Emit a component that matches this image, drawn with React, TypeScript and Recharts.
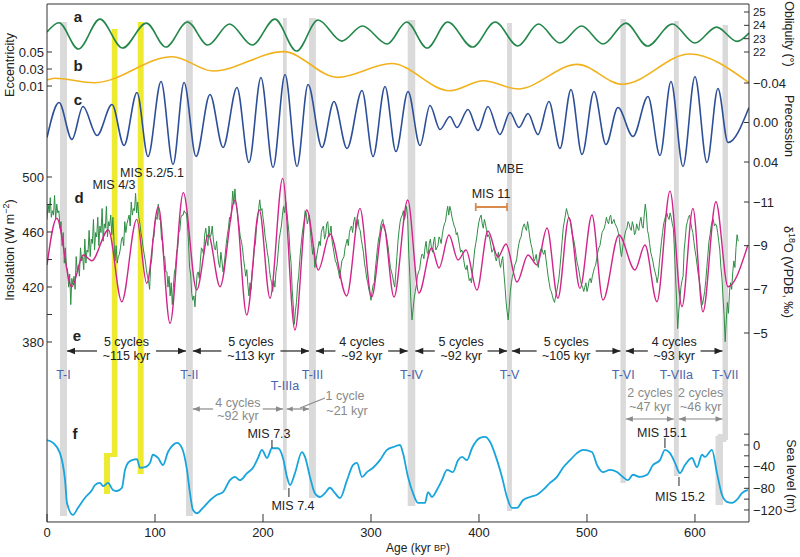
import React from "react";
import {
  ComposedChart,
  Line,
  XAxis,
  YAxis,
  ReferenceArea,
  ReferenceLine,
} from "recharts";

type Pt = [number, number];

// all ages in kyr BP
// (a) obliquity, degrees
const OBLIQUITY: Pt[] = [
  [0, 23.5], [11, 24.2], [29, 22.22], [49, 24.47], [70, 22.3], [92, 24.17], [110, 22.37],
  [130, 24.25], [149, 22.52], [169, 24.1], [190, 22.52], [211, 24.47], [231, 22.07],
  [251, 24.4], [273, 22.82], [292, 23.95], [315, 22.6], [333, 24.25], [352, 22.3],
  [371, 24.25], [394, 22.37], [415, 24.25], [436, 22.45], [455, 24.1], [475, 22.67],
  [495, 23.95], [515, 22.6], [536, 24.17], [556, 22.45], [579, 24.1], [600, 22.67],
  [620, 23.87], [639, 22.8], [650, 23.42],
];

// (b) eccentricity
const ECCENTRICITY: Pt[] = [
  [0, 0.0171], [7, 0.0191], [44, 0.0139], [116, 0.0445], [154, 0.0276], [219, 0.0504],
  [269, 0.0202], [319, 0.0365], [373, 0.0045], [404, 0.0162], [436, 0.0065],
  [491, 0.0355], [533, 0.012], [595, 0.0476], [650, 0.0139],
];

// (c) precession index
const PRECESSION: Pt[] = [
  [0, 0.0152], [11.1, -0.0203], [23.1, 0.0172], [33.3, -0.0162], [46.3, 0.0132],
  [60.2, -0.0182], [71.3, 0.0233], [83.3, -0.0304], [93.5, 0.0344], [105.6, -0.0415],
  [116.7, 0.0425], [126.9, -0.0405], [138, 0.0344], [150.9, -0.0284], [163, 0.0253],
  [175.9, -0.0355], [187, 0.0405], [198.1, -0.0456], [209.3, 0.0456], [220.4, -0.0486],
  [231.5, 0.0446], [241.7, -0.0385], [254.6, 0.0253], [265.7, -0.0213], [277.8, 0.0263],
  [291.7, -0.0324], [301.9, 0.0344], [313, -0.0365], [323.1, 0.0294], [334.3, -0.0314],
  [345.4, 0.0233], [354.6, -0.0172], [363.9, 0.0071], [373.1, -0.0061], [379.6, 0.0051],
  [389.8, -0.0132], [399.1, 0.0081], [408.3, -0.0162], [419.4, 0.0122], [428.7, -0.0101],
  [437, 0.0051], [445.4, -0.0091], [454.6, 0.0122], [464.8, -0.0213], [475, 0.0263],
  [485.2, -0.0334], [495.4, 0.0324], [506.5, -0.0314], [517.6, 0.0223], [528.7, -0.0152],
  [542.6, 0.0142], [556.5, -0.0263], [567.6, 0.0334], [577.8, -0.0415], [588.9, 0.0446],
  [600, -0.0466], [611.1, 0.0405], [621.3, -0.0344], [630.6, 0.0203], [650, -0.0152],
];

// (d) summer insolation, W m-2
const INSOLATION: Pt[] = [
  [0, 436], [9, 470], [22.9, 420.2], [33.6, 443.3], [41.4, 439.1], [56.8, 461.5],
  [69.2, 409.3], [83.1, 469.2], [92.3, 422.7], [103.1, 478.4], [113.9, 393.6],
  [126.2, 488.6], [138.6, 417.8], [149.4, 457.8], [160.2, 420.2], [174.1, 483.3],
  [184.9, 399.6], [196.6, 476], [206.5, 411.8], [218.2, 499], [229.6, 388.7],
  [240.5, 476], [251.2, 432.4], [262, 458.5], [277.5, 413.5], [289.8, 477.2],
  [300.6, 412.7], [311.4, 465.8], [321.3, 412.7], [334, 483.3], [344.4, 415.6],
  [356.2, 448.4], [363, 433.8], [372.2, 457.8], [380.6, 439.6], [388, 446.9],
  [398.1, 417.8], [408.3, 460.7], [417.6, 441.8], [425, 451.3], [435.2, 423.6],
  [445.4, 443.3], [453.7, 436], [463, 462.9], [473.1, 411.8], [483.3, 470.5],
  [493.5, 419], [504.6, 472.4], [514.8, 410.5], [529.6, 457.8], [544.4, 432.4],
  [553.7, 450.5], [564.8, 409.3], [576.9, 489.7], [588, 405.7], [598.1, 477.2],
  [607.4, 402], [619.4, 482], [630.6, 420.2], [649, 450.5],
];

// (d) speleothem d18O, per mil VPDB
const D18O: Pt[] = [
  [0, -10.2], [1, -10.9], [2, -10.5], [3, -11.2], [4, -10.3], [5, -10.6], [6, -10.4], [7, -11.3],
  [8, -10.2], [9, -10.9], [10, -10.5], [11, -10.6], [12, -9.8], [13, -10.1], [14, -9.0], [15, -9.6],
  [16, -8.2], [17, -8.9], [18, -8.0], [19, -7.9], [20, -7.1], [21, -7.7], [22, -6.3], [23, -7.5],
  [24, -7.2], [25, -7.6], [26, -7.0], [27, -8.5], [28, -7.8], [29, -8.1], [30, -7.6], [31, -8.9],
  [32, -8.3], [33, -8.5], [34, -7.9], [35, -9.3], [36, -8.2], [37, -8.8], [38, -8.7], [39, -9.7],
  [40, -8.5], [41, -9.3], [42, -9.1], [43, -10.2], [44, -8.8], [45, -9.6], [46, -9.4], [47, -10.3],
  [48, -9.0], [49, -9.9], [50, -9.6], [51, -10.7], [52, -9.2], [53, -10.0], [54, -9.8], [55, -10.8],
  [56, -9.4], [57, -10.1], [58, -9.9], [59, -10.4], [60, -9.5], [61, -10.3], [62, -9.2], [63, -8.3],
  [64, -9.0], [65, -8.2], [66, -8.5], [67, -8.6], [68, -8.9], [69, -9.3], [70, -9.4], [71, -9.0],
  [72, -10.1], [73, -9.6], [74, -10.0], [75, -10.2], [76, -10.4], [77, -9.9], [78, -11.0], [79, -10.4],
  [80, -10.7], [81, -10.6], [82, -11.4], [83, -10.5], [84, -11.0], [85, -10.3], [86, -10.0], [87, -9.6],
  [88, -9.3], [89, -8.9], [90, -8.6], [91, -8.3], [92, -7.9], [93, -7.6], [94, -7.4], [95, -7.0],
  [96, -8.1], [97, -8.4], [98, -9.3], [99, -9.4], [100, -10.1], [101, -10.3], [102, -10.2], [103, -10.9],
  [104, -10.2], [105, -10.2], [106, -9.3], [107, -9.2], [108, -8.5], [109, -8.5], [110, -7.8], [111, -7.8],
  [112, -7.1], [113, -7.6], [114, -6.7], [115, -7.3], [116, -6.3], [117, -7.1], [118, -7.8], [119, -8.0],
  [120, -8.7], [121, -8.9], [122, -9.6], [123, -9.7], [124, -10.3], [125, -10.4], [126, -10.4], [127, -10.6],
  [128, -10.5], [129, -10.5], [130, -10.0], [131, -9.2], [132, -8.0], [133, -7.7], [134, -6.8], [135, -6.5],
  [136, -6.7], [137, -6.2], [138, -7.0], [139, -7.7], [140, -7.8], [141, -7.5], [142, -8.3], [143, -8.9],
  [144, -8.8], [145, -8.6], [146, -9.5], [147, -9.8], [148, -9.3], [149, -9.0], [150, -9.9], [151, -9.4],
  [152, -9.5], [153, -9.9], [154, -9.3], [155, -8.9], [156, -8.8], [157, -9.2], [158, -8.6], [159, -8.2],
  [160, -8.0], [161, -8.7], [162, -8.3], [163, -7.8], [164, -8.1], [165, -8.6], [166, -9.1], [167, -9.5],
  [168, -9.8], [169, -10.3], [170, -10.1], [171, -10.7], [172, -11.5], [173, -10.9], [174, -11.6], [175, -10.9],
  [176, -10.6], [177, -10.2], [178, -9.8], [179, -9.4], [180, -9.2], [181, -8.9], [182, -8.4], [183, -8.0],
  [184, -7.6], [185, -7.9], [186, -7.2], [187, -6.7], [188, -7.3], [189, -7.0], [190, -7.8], [191, -8.2],
  [192, -8.9], [193, -9.1], [194, -9.9], [195, -10.2], [196, -10.7], [197, -11.1], [198, -10.6], [199, -10.7],
  [200, -10.3], [201, -9.9], [202, -9.4], [203, -9.1], [204, -8.7], [205, -8.4], [206, -7.9], [207, -7.5],
  [208, -7.3], [209, -6.9], [210, -7.4], [211, -7.1], [212, -7.8], [213, -8.1], [214, -8.7], [215, -9.3],
  [216, -9.6], [217, -9.9], [218, -10.4], [219, -10.8], [220, -10.5], [221, -11.0], [222, -10.6], [223, -10.1],
  [224, -9.6], [225, -8.7], [226, -8.2], [227, -7.0], [228, -6.3], [229, -5.4], [230, -6.0], [231, -6.4],
  [232, -7.2], [233, -7.6], [234, -8.3], [235, -8.9], [236, -9.4], [237, -9.8], [238, -10.1], [239, -10.6],
  [240, -10.5], [241, -10.0], [242, -10.2], [243, -10.4], [244, -9.6], [245, -9.1], [246, -8.6], [247, -8.9],
  [248, -8.0], [249, -8.3], [250, -8.6], [251, -8.9], [252, -9.2], [253, -9.0], [254, -9.6], [255, -9.8],
  [256, -9.9], [257, -9.3], [258, -9.5], [259, -10.0], [260, -10.1], [261, -9.4], [262, -9.6], [263, -9.9],
  [264, -9.2], [265, -8.9], [266, -8.6], [267, -8.3], [268, -8.2], [269, -8.0], [270, -7.8], [271, -7.5],
  [272, -7.9], [273, -8.3], [274, -8.4], [275, -8.5], [276, -8.9], [277, -9.1], [278, -9.3], [279, -9.0],
  [280, -9.6], [281, -9.8], [282, -9.9], [283, -9.6], [284, -10.1], [285, -10.3], [286, -9.8], [287, -9.9],
  [288, -10.2], [289, -9.8], [290, -9.7], [291, -9.3], [292, -9.0], [293, -8.7], [294, -8.2], [295, -7.9],
  [296, -7.5], [297, -7.3], [298, -7.0], [299, -6.8], [300, -6.5], [301, -6.9], [302, -7.2], [303, -7.3],
  [304, -7.9], [305, -8.4], [306, -8.9], [307, -9.3], [308, -9.5], [309, -9.9], [310, -10.1], [311, -10.2],
  [312, -9.8], [313, -9.7], [314, -9.5], [315, -9.2], [316, -8.9], [317, -8.4], [318, -8.0], [319, -7.8],
  [320, -7.6], [321, -7.3], [322, -7.1], [323, -7.8], [324, -8.5], [325, -9.2], [326, -9.7], [327, -10.1],
  [328, -10.3], [329, -10.4], [330, -10.6], [331, -10.2], [332, -10.4], [333, -10.8], [334, -10.2], [335, -8.6],
  [336, -7.6], [337, -6.4], [338, -5.6], [339, -6.1], [340, -6.6], [341, -6.9], [342, -7.2], [343, -7.6],
  [344, -7.8], [345, -7.9], [346, -8.3], [347, -8.6], [348, -8.6], [349, -8.4], [350, -8.9], [351, -9.2],
  [352, -8.7], [353, -8.6], [354, -9.1], [355, -9.3], [356, -8.9], [357, -8.7], [358, -9.2], [359, -9.4],
  [360, -8.8], [361, -8.9], [362, -9.0], [363, -9.4], [364, -9.3], [365, -9.1], [366, -9.5], [367, -9.8],
  [368, -10.0], [369, -10.1], [370, -10.5], [371, -10.8], [372, -10.4], [373, -10.8], [374, -10.6], [375, -10.3],
  [376, -10.1], [377, -9.9], [378, -9.8], [379, -9.5], [380, -9.6], [381, -9.3], [382, -9.0], [383, -8.7],
  [384, -8.8], [385, -8.7], [386, -8.3], [387, -8.0], [388, -7.9], [389, -8.1], [390, -7.7], [391, -7.4],
  [392, -7.5], [393, -7.3], [394, -7.8], [395, -8.3], [396, -8.8], [397, -9.1], [398, -9.4], [399, -9.8],
  [400, -10.1], [401, -10.3], [402, -10.4], [403, -10.0], [404, -9.8], [405, -10.2], [406, -10.0], [407, -9.7],
  [408, -9.4], [409, -9.5], [410, -9.3], [411, -9.0], [412, -8.7], [413, -8.8], [414, -8.9], [415, -8.5],
  [416, -8.3], [417, -8.5], [418, -8.7], [419, -8.2], [420, -8.0], [421, -8.3], [422, -8.5], [423, -7.8],
  [424, -7.2], [425, -6.5], [426, -6.0], [427, -5.6], [428, -6.2], [429, -6.9], [430, -7.3], [431, -7.6],
  [432, -7.8], [433, -8.1], [434, -8.2], [435, -8.4], [436, -8.8], [437, -9.1], [438, -9.3], [439, -9.4],
  [440, -9.7], [441, -9.9], [442, -10.0], [443, -9.8], [444, -9.7], [445, -10.1], [446, -9.8], [447, -9.4],
  [448, -9.1], [449, -8.9], [450, -8.6], [451, -8.3], [452, -8.4], [453, -8.6], [454, -8.2], [455, -8.0],
  [456, -8.6], [457, -8.8], [458, -8.9], [459, -8.7], [460, -8.6], [461, -8.8], [462, -8.4], [463, -8.0],
  [464, -7.6], [465, -7.3], [466, -7.0], [467, -6.9], [468, -6.7], [469, -6.5], [470, -6.4], [471, -6.7],
  [472, -6.9], [473, -7.2], [474, -7.5], [475, -8.0], [476, -8.6], [477, -9.2], [478, -9.8], [479, -10.1],
  [480, -10.4], [481, -10.7], [482, -10.5], [483, -10.3], [484, -10.2], [485, -10.0], [486, -9.6], [487, -9.4],
  [488, -9.2], [489, -8.9], [490, -8.5], [491, -8.2], [492, -8.0], [493, -7.7], [494, -7.4], [495, -7.2],
  [496, -7.1], [497, -6.9], [498, -7.1], [499, -7.3], [500, -6.9], [501, -7.1], [502, -7.4], [503, -7.5],
  [504, -7.3], [505, -7.6], [506, -7.8], [507, -8.0], [508, -8.1], [509, -8.4], [510, -8.7], [511, -8.9],
  [512, -9.0], [513, -9.3], [514, -9.6], [515, -9.7], [516, -9.8], [517, -10.0], [518, -10.3], [519, -10.1],
  [520, -10.0], [521, -10.3], [522, -10.4], [523, -10.0], [524, -10.1], [525, -10.2], [526, -10.0], [527, -9.9],
  [528, -9.8], [529, -9.6], [530, -9.3], [531, -8.8], [532, -8.5], [533, -8.9], [534, -9.2], [535, -9.5],
  [536, -9.7], [537, -9.8], [538, -10.1], [539, -10.0], [540, -9.8], [541, -9.7], [542, -10.1], [543, -9.9],
  [544, -9.5], [545, -9.6], [546, -10.0], [547, -9.8], [548, -9.7], [549, -10.1], [550, -10.3], [551, -9.9],
  [552, -9.8], [553, -10.4], [554, -10.9], [555, -10.5], [556, -9.7], [557, -9.5], [558, -9.1], [559, -8.7],
  [560, -8.5], [561, -8.3], [562, -8.0], [563, -7.8], [564, -7.6], [565, -7.3], [566, -7.6], [567, -8.2],
  [568, -8.7], [569, -9.2], [570, -9.6], [571, -10.0], [572, -10.2], [573, -10.4], [574, -10.5], [575, -10.3],
  [576, -10.2], [577, -10.5], [578, -10.3], [579, -10.0], [580, -9.8], [581, -8.8], [582, -7.6], [583, -6.5],
  [584, -5.2], [585, -6.0], [586, -6.5], [587, -7.1], [588, -7.4], [589, -7.6], [590, -8.8], [591, -9.3],
  [592, -9.9], [593, -10.1], [594, -10.3], [595, -10.4], [596, -10.1], [597, -9.8], [598, -9.6], [599, -9.2],
  [600, -8.8], [601, -8.5], [602, -8.1], [603, -7.7], [604, -7.4], [605, -7.0], [606, -6.6], [607, -6.3],
  [608, -6.6], [609, -6.9], [610, -7.4], [611, -8.0], [612, -8.6], [613, -9.2], [614, -9.5], [615, -9.9],
  [616, -10.1], [617, -10.2], [618, -9.9], [619, -10.0], [620, -9.9], [621, -9.6], [622, -9.2], [623, -8.8],
  [624, -8.0], [625, -7.5], [626, -6.6], [627, -5.8], [628, -4.6], [629, -5.6], [630, -6.4], [631, -5.9],
  [632, -6.9], [633, -7.3], [634, -7.0], [635, -7.8], [636, -8.3], [637, -8.0], [638, -8.9], [639, -9.5],
  [640, -9.2],
];

// (f) sea level, m
const SEA_LEVEL: Pt[] = [
  [0, 9], [5.6, 4], [12, -15], [16.7, -65], [18.5, -107], [24, -129], [28.7, -116], [35, -98],
  [41.7, -83], [44.4, -74], [49, -70], [51.9, -76], [56.5, -70], [61, -83], [64.8, -85], [69.4, -79],
  [72.2, -46], [75, -33], [78.7, -28], [83.3, -26], [86, -42], [90.7, -41], [95.4, -33], [98, -18],
  [102.8, -24], [107.4, -37], [112, -13], [116.7, 0], [120.4, 4], [125, -6], [129.6, -46], [132.4, -89],
  [135.2, -120], [138.9, -126], [144.4, -116], [151, -102], [157.4, -92], [163, -87], [169.4, -65],
  [174, -59], [178.7, -65], [185.2, -52], [190.7, -42], [195.4, -24], [199, -9], [203.7, -24],
  [208.3, -6], [213.9, -6], [218.5, -24], [222.2, -59], [225, -74], [229.6, -52], [236, -13],
  [238.9, -22], [243.5, -59], [248, -89], [252.8, -96], [257.4, -89], [262, -79], [266.7, -89],
  [271.3, -98], [277.8, -65], [283.3, -37], [287, -33], [291.7, -59], [296.3, -50], [301.9, -42],
  [308.3, -28], [314.8, -9], [320.4, -4], [326.9, 0], [329.6, -15], [334.3, -59], [338.9, -89],
  [343.5, -107], [350, -107], [352.8, -87], [356.5, -96], [361, -83], [365.7, -65], [370.4, -46],
  [375.9, -50], [380.6, -28], [384.3, -22], [388.9, -28], [393.5, -6], [400.9, 13], [405.6, 15],
  [410.2, 6], [416.7, -28], [421.3, -59], [425.9, -96], [430.6, -116], [435.2, -116], [440.7, -102],
  [447.2, -96], [453.7, -92], [459.3, -83], [465.7, -70], [472.2, -59], [477.8, -42], [484.3, -28],
  [490.7, -15], [496.3, -9], [504.6, -13], [509.3, -37], [514.8, -50], [521.3, -46], [527.8, -50],
  [533.3, -59], [537.9, -65], [542.6, -55], [549, -59], [555.6, -55], [561.1, -37], [567.6, -28],
  [572.2, -9], [576.9, -15], [581.5, -33], [586.1, -52], [590.7, -37], [597.2, -24], [601.9, -41],
  [606.5, -18], [609.3, -22], [615.7, -9], [620.4, -52], [625, -92], [629.6, -105], [634.3, -107],
  [638.9, -101], [643.5, -89], [649, -83],
];

// glacial terminations (age ranges of the grey bands)
const TERMINATIONS = [
  { name: "T-I", from: 12, to: 18.5 },
  { name: "T-II", from: 128.7, to: 135 },
  { name: "T-IIIa", from: 218.5, to: 222 },
  { name: "T-III", from: 242.6, to: 249 },
  { name: "T-IV", from: 334, to: 341 },
  { name: "T-V", from: 426, to: 430.5 },
  { name: "T-VI", from: 531, to: 536 },
  { name: "T-VIIa", from: 580.5, to: 585 },
  { name: "T-VII", from: 625.5, to: 630.6 },
];

const CYCLES = [
  { from: "T-I", to: "T-II", n: "5 cycles", span: "~115 kyr" },
  { from: "T-II", to: "T-III", n: "5 cycles", span: "~113 kyr" },
  { from: "T-III", to: "T-IV", n: "4 cycles", span: "~92 kyr" },
  { from: "T-IV", to: "T-V", n: "5 cycles", span: "~92 kyr" },
  { from: "T-V", to: "T-VI", n: "5 cycles", span: "~105 kyr" },
  { from: "T-VI", to: "T-VII", n: "4 cycles", span: "~93 kyr" },
];

const MIS_11: [number, number] = [397, 426];

const AGE_TICKS = [0, 100, 200, 300, 400, 500, 600];
const MINOR_TICKS = [0, 20, 40, 60, 80, 100, 120, 140, 160, 180, 200, 220, 240, 260, 280, 300, 320, 340, 360, 380, 400, 420, 440, 460, 480, 500, 520, 540, 560, 580, 600, 620, 640];

// ---- layout ----
const W = 800;
const H = 557;
const M = { top: 4, right: 51, bottom: 35, left: 47 };
const TOP = M.top;
const BOTTOM = H - M.bottom;
const THIN = 0.01; // axes need a non-zero box to be drawn
const FONT = "'Liberation Sans', Arial, Helvetica, sans-serif";
const INK = "#222";
const GREY = "#8a8a8a";
const BLUE = "#4a64ad";
const BAND = "#dadada";
const YELLOW = "#eeea30";

const X = (age: number) => M.left + (age * (W - M.left - M.right)) / 650;
// pixel row -> percentage of the plot height (for the decorative "pos" axis)
const py = (y: number) => ((y - TOP) / (BOTTOM - TOP)) * 100;

// axis domain so that v1 sits at pixel row y1 and v2 at y2
function fit(v1: number, y1: number, v2: number, y2: number) {
  const k = (v2 - v1) / (y2 - y1);
  const top = v1 + (TOP - y1) * k;
  const bot = v1 + (BOTTOM - y1) * k;
  return top > bot
    ? { domain: [bot, top] as [number, number], reversed: false }
    : { domain: [top, bot] as [number, number], reversed: true };
}

const OBL_D = fit(25, 12, 22, 52);
const ECC_D = fit(0.05, 52, 0.01, 86);
const PREC_D = fit(-0.04, 83, 0.04, 162);
const INS_D = fit(500, 177, 380, 342);
const D18_D = fit(-11, 202, -5, 333);
const SEA_D = fit(0, 445, -120, 510);

// vertical extent (pixel rows) of each grey band
const BAND_ROWS: Record<string, [number, number]> = {
  "T-I": [22, 516],
  "T-II": [20, 516],
  "T-IIIa": [18, 490],
  "T-III": [18, 498],
  "T-IV": [20, 506],
  "T-V": [23, 511],
  "T-VI": [19, 483],
  "T-VIIa": [21, 476],
  "T-VII": [25, 440],
};

const rows = (pts: Pt[]) => pts.map(([age, v]) => ({ age, v }));
const term = (name: string) => TERMINATIONS.find((t) => t.name === name)!;
const minus = (s: string) => s.replace("-", "\u2212");

const arrow =
  (heads: "none" | "end" | "both", color: string, size = 8) =>
  (p: any) => {
    const { x1, y1, x2, y2 } = p;
    const dx = x2 - x1;
    const dy = y2 - y1;
    const len = Math.hypot(dx, dy) || 1;
    const ux = dx / len;
    const uy = dy / len;
    const hw = size * 0.4;
    const head = (tx: number, ty: number, dir: number) => {
      const bx = tx - dir * ux * size;
      const by = ty - dir * uy * size;
      return (
        <polygon
          points={`${tx},${ty} ${bx - uy * hw},${by + ux * hw} ${bx + uy * hw},${by - ux * hw}`}
          fill={color}
        />
      );
    };
    return (
      <g>
        <line x1={x1} y1={y1} x2={x2} y2={y2} stroke={color} strokeWidth={1.2} />
        {heads === "both" && head(x1, y1, -1)}
        {heads !== "none" && head(x2, y2, 1)}
      </g>
    );
  };

const capped = (color: string) => (p: any) => {
  const { x1, y1, x2, y2 } = p;
  return (
    <g stroke={color} strokeWidth={1.8}>
      <line x1={x1} y1={y1} x2={x2} y2={y2} />
      <line x1={x1} y1={y1 - 4} x2={x1} y2={y1 + 4} />
      <line x1={x2} y1={y2 - 4} x2={x2} y2={y2 + 4} />
    </g>
  );
};

function Txt(props: {
  x: number;
  y: number;
  children: React.ReactNode;
  size?: number;
  color?: string;
  bold?: boolean;
  rotate?: number;
  anchor?: "start" | "middle" | "end";
}) {
  const { x, y, children, size = 12.5, color = INK, bold, rotate, anchor = "middle" } = props;
  return (
    <text
      x={x}
      y={y}
      fontSize={size}
      fill={color}
      fontWeight={bold ? 700 : 400}
      textAnchor={anchor}
      dominantBaseline="central"
      transform={rotate ? `rotate(${rotate} ${x} ${y})` : undefined}
    >
      {children}
    </text>
  );
}

export default function App() {
  const tick = { fontSize: 13, fill: INK, fontFamily: FONT };
  const smallTick = { fontSize: 11.5, fill: INK, fontFamily: FONT };
  const seg = (a: number, b: number, y: number, yb = y) => [
    { x: a, y: py(y) },
    { x: b, y: py(yb) },
  ];
  const rowE = 351;
  const gapKyr = (s: string) => (s.length * 6.3) / 2 / 1.08 + 4;

  return (
    <div style={{ position: "absolute", left: 0, top: 0, width: W, height: H, background: "#fff", fontFamily: FONT }}>
      <ComposedChart width={W} height={H} margin={M}>
        <XAxis xAxisId="x" type="number" dataKey="age" domain={[0, 650]} allowDataOverflow ticks={AGE_TICKS}
          interval={0} height={THIN} tickSize={-8} tickMargin={14} stroke="#333" tick={tick} />
        <XAxis xAxisId="xminor" type="number" domain={[0, 650]} allowDataOverflow ticks={MINOR_TICKS}
          interval={0} height={THIN} tickSize={-4} tick={false} axisLine={false} stroke="#333" />
        <XAxis xAxisId="xtop" orientation="top" type="number" domain={[0, 650]} allowDataOverflow ticks={MINOR_TICKS}
          interval={0} height={THIN} tickSize={-5} tick={false} stroke="#333" />

        <YAxis yAxisId="ecc" orientation="left" width={THIN} type="number" domain={ECC_D.domain} reversed={ECC_D.reversed}
          allowDataOverflow ticks={[0.01, 0.03, 0.05]} interval={0} tickFormatter={(v: number) => v.toFixed(2)}
          tickSize={-5} tickMargin={8} tick={tick} axisLine={false} stroke="#333" />
        <YAxis yAxisId="ins" orientation="left" width={THIN} type="number" domain={INS_D.domain} reversed={INS_D.reversed}
          allowDataOverflow ticks={[380, 400, 420, 440, 460, 480, 500]} interval={0}
          tickFormatter={(v: number) => ((v - 380) % 40 === 0 ? String(v) : "")}
          tickSize={-5} tickMargin={8} tick={tick} stroke="#333" />
        <YAxis yAxisId="obl" orientation="right" width={THIN} type="number" domain={OBL_D.domain} reversed={OBL_D.reversed}
          allowDataOverflow ticks={[22, 23, 24, 25]} interval={0} tickSize={-5} tickMargin={9} tick={smallTick}
          axisLine={false} stroke="#333" />
        <YAxis yAxisId="prec" orientation="right" width={THIN} type="number" domain={PREC_D.domain} reversed={PREC_D.reversed}
          allowDataOverflow ticks={[-0.04, 0, 0.04]} interval={0} tickFormatter={(v: number) => minus(v.toFixed(2))}
          tickSize={-5} tickMargin={9} tick={tick} axisLine={false} stroke="#333" />
        <YAxis yAxisId="d18o" orientation="right" width={THIN} type="number" domain={D18_D.domain} reversed={D18_D.reversed}
          allowDataOverflow ticks={[-11, -9, -7, -5]} interval={0} tickFormatter={(v: number) => minus(String(v))}
          tickSize={-5} tickMargin={9} tick={tick} axisLine={false} stroke="#333" />
        <YAxis yAxisId="sea" orientation="right" width={THIN} type="number" domain={SEA_D.domain} reversed={SEA_D.reversed}
          allowDataOverflow ticks={[20, 0, -20, -40, -60, -80, -100, -120]} interval={0}
          tickFormatter={(v: number) => (v <= 0 && v % 40 === 0 ? minus(String(v)) : "")}
          tickSize={-5} tickMargin={9} tick={tick} stroke="#333" />
        <YAxis yAxisId="pos" hide type="number" domain={[0, 100]} reversed allowDataOverflow />

        {/* terminations */}
        {TERMINATIONS.map((t) => (
          <ReferenceArea key={t.name} xAxisId="x" yAxisId="pos" x1={t.from} x2={t.to}
            y1={py(BAND_ROWS[t.name][0])} y2={py(BAND_ROWS[t.name][1])} fill={BAND} fillOpacity={1} stroke="none" />
        ))}
        <ReferenceArea xAxisId="x" yAxisId="pos" x1={619} x2={626} y1={py(436)} y2={py(505)} fill={BAND} fillOpacity={1} stroke="none" />
        <ReferenceArea xAxisId="x" yAxisId="pos" x1={621} x2={629} y1={py(434)} y2={py(442)} fill={BAND} fillOpacity={1} stroke="none" />

        {/* MIS 4/3 and MIS 5.2/5.1 */}
        <ReferenceArea xAxisId="x" yAxisId="pos" x1={60} x2={65.3} y1={py(29)} y2={py(457)} fill={YELLOW} fillOpacity={1} stroke="none" />
        <ReferenceArea xAxisId="x" yAxisId="pos" x1={52.8} x2={58.3} y1={py(453)} y2={py(494)} fill={YELLOW} fillOpacity={1} stroke="none" />
        <ReferenceArea xAxisId="x" yAxisId="pos" x1={56} x2={62} y1={py(453)} y2={py(457)} fill={YELLOW} fillOpacity={1} stroke="none" />
        <ReferenceArea xAxisId="x" yAxisId="pos" x1={84} x2={89.5} y1={py(22)} y2={py(474)} fill={YELLOW} fillOpacity={1} stroke="none" />

        <Line xAxisId="x" yAxisId="obl" data={rows(OBLIQUITY)} dataKey="v" type="monotone" stroke="#23874a"
          strokeWidth={1.6} dot={false} isAnimationActive={false} />
        <Line xAxisId="x" yAxisId="ecc" data={rows(ECCENTRICITY)} dataKey="v" type="monotone" stroke="#f2b21e"
          strokeWidth={1.6} dot={false} isAnimationActive={false} />
        <Line xAxisId="x" yAxisId="prec" data={rows(PRECESSION)} dataKey="v" type="monotone" stroke="#2d4f98"
          strokeWidth={1.6} dot={false} isAnimationActive={false} />
        <Line xAxisId="x" yAxisId="d18o" data={rows(D18O)} dataKey="v" type="linear" stroke="#2f8d45"
          strokeWidth={1} dot={false} isAnimationActive={false} />
        <Line xAxisId="x" yAxisId="ins" data={rows(INSOLATION)} dataKey="v" type="monotone" stroke="#d0258a"
          strokeWidth={1.4} dot={false} isAnimationActive={false} />
        <Line xAxisId="x" yAxisId="sea" data={rows(SEA_LEVEL)} dataKey="v" type="monotone" stroke="#18a4dc"
          strokeWidth={1.8} dot={false} isAnimationActive={false} />

        {/* e: cycle counts between terminations */}
        {CYCLES.map((c) => {
          const a = term(c.from).to;
          const b = term(c.to).from;
          const mid = (a + b) / 2;
          const g = gapKyr(c.span);
          return [
            <ReferenceLine key={c.from + "l"} xAxisId="x" yAxisId="pos" segment={seg(mid - g, a, rowE)} shape={arrow("end", INK)} />,
            <ReferenceLine key={c.from + "r"} xAxisId="x" yAxisId="pos" segment={seg(mid + g, b, rowE)} shape={arrow("end", INK)} />,
          ];
        })}

        {/* grey sub-cycles */}
        <ReferenceLine xAxisId="x" yAxisId="pos" segment={seg(176.75 - 23, 135, 409)} shape={arrow("end", GREY, 7)} />
        <ReferenceLine xAxisId="x" yAxisId="pos" segment={seg(176.75 + 23, 218.5, 409)} shape={arrow("end", GREY, 7)} />
        <ReferenceLine xAxisId="x" yAxisId="pos" segment={seg(222, 242.6, 409)} shape={arrow("both", GREY, 6)} />
        <ReferenceLine xAxisId="x" yAxisId="pos" segment={seg(257.4, 234.3, 398, 408)} shape={arrow("none", GREY)} />
        <ReferenceLine xAxisId="x" yAxisId="pos" segment={seg(536, 580.5, 419)} shape={arrow("both", GREY, 7)} />
        <ReferenceLine xAxisId="x" yAxisId="pos" segment={seg(585, 625.5, 419)} shape={arrow("both", GREY, 7)} />

        {/* MIS markers */}
        <ReferenceLine xAxisId="x" yAxisId="pos" segment={[{ x: 208.3, y: py(440) }, { x: 208.3, y: py(448) }]} stroke={INK} />
        <ReferenceLine xAxisId="x" yAxisId="pos" segment={[{ x: 224, y: py(488) }, { x: 224, y: py(497) }]} stroke={INK} />
        <ReferenceLine xAxisId="x" yAxisId="pos" segment={[{ x: 572.2, y: py(438) }, { x: 572.2, y: py(448) }]} stroke={INK} />
        <ReferenceLine xAxisId="x" yAxisId="pos" segment={[{ x: 585.2, y: py(477) }, { x: 585.2, y: py(486) }]} stroke={INK} />
        <ReferenceLine xAxisId="x" yAxisId="pos" segment={seg(MIS_11[0], MIS_11[1], 207)} shape={capped("#d98a4c")} />
      </ComposedChart>

      <svg width={W} height={H} style={{ position: "absolute", left: 0, top: 0, pointerEvents: "none" }} fontFamily={FONT}>
        {/* panel letters */}
        <Txt x={78} y={16} bold size={15}>a</Txt>
        <Txt x={78} y={65} bold size={15}>b</Txt>
        <Txt x={78} y={99} bold size={15}>c</Txt>
        <Txt x={79} y={197} bold size={15}>d</Txt>
        <Txt x={77} y={335} bold size={15}>e</Txt>
        <Txt x={75} y={433} bold size={15}>f</Txt>

        {/* axis titles */}
        <Txt x={10} y={65} rotate={-90}>Eccentricity</Txt>
        <Txt x={10} y={250} rotate={-90}>
          Insolation (W m<tspan dy={-4} fontSize={9}>{"\u22122"}</tspan><tspan dy={4}>)</tspan>
        </Txt>
        <Txt x={789} y={34} rotate={90}>Obliquity (°)</Txt>
        <Txt x={789} y={126} rotate={90}>Precession</Txt>
        <Txt x={788} y={272} rotate={90}>
          δ<tspan dy={-4} fontSize={9}>18</tspan><tspan dy={4}>O (VPDB, ‰)</tspan>
        </Txt>
        <Txt x={791} y={476} rotate={90}>Sea level (m)</Txt>
        <Txt x={418} y={548} size={12}>
          Age (kyr <tspan fontSize={9}>BP</tspan>)
        </Txt>

        {/* annotations */}
        <Txt x={152} y={173}>MIS 5.2/5.1</Txt>
        <Txt x={114} y={185}>MIS 4/3</Txt>
        <Txt x={510} y={169}>MBE</Txt>
        <Txt x={491} y={194}>MIS 11</Txt>
        <Txt x={269} y={434}>MIS 7.3</Txt>
        <Txt x={293} y={506}>MIS 7.4</Txt>
        <Txt x={662} y={433}>MIS 15.1</Txt>
        <Txt x={680} y={497}>MIS 15.2</Txt>

        {CYCLES.map((c) => {
          const mid = X((term(c.from).to + term(c.to).from) / 2);
          return (
            <g key={c.from}>
              <Txt x={mid} y={342}>{c.n}</Txt>
              <Txt x={mid} y={356}>{c.span}</Txt>
            </g>
          );
        })}

        {TERMINATIONS.map((t) => (
          <Txt key={t.name} x={X((t.from + t.to) / 2)} y={t.name === "T-IIIa" ? 386 : 375} color={BLUE}>
            {t.name}
          </Txt>
        ))}

        <Txt x={X(176.75)} y={403} color={GREY}>4 cycles</Txt>
        <Txt x={X(176.75)} y={416} color={GREY}>~92 kyr</Txt>
        <Txt x={345} y={396} color={GREY}>1 cycle</Txt>
        <Txt x={347} y={411} color={GREY}>~21 kyr</Txt>
        <Txt x={X(558.25)} y={393} color={GREY}>2 cycles</Txt>
        <Txt x={X(558.25)} y={407} color={GREY}>~47 kyr</Txt>
        <Txt x={X(605.25)} y={393} color={GREY}>2 cycles</Txt>
        <Txt x={X(605.25)} y={407} color={GREY}>~46 kyr</Txt>
      </svg>
    </div>
  );
}
